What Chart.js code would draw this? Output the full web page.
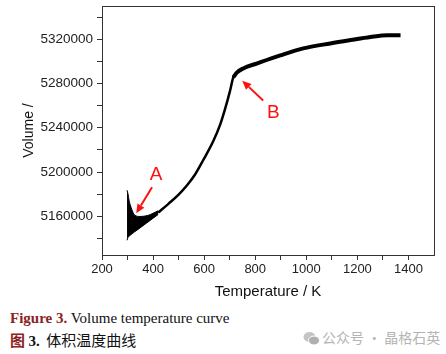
<!DOCTYPE html>
<html>
<head>
<meta charset="utf-8">
<script src="https://cdn.jsdelivr.net/npm/chart.js@4/dist/chart.umd.min.js"></script>
<style>
  body { margin: 0; background: #fff; width: 446px; height: 354px; overflow: hidden; position: relative; }
  #wrap { position: absolute; left: 0; top: 0; width: 446px; height: 305px; }
  .cap1 { position: absolute; left: 10px; top: 310px; font: 15px "Liberation Serif", serif; color: #111; white-space: nowrap; }
  .cap2 { position: absolute; left: 10px; top: 329px; font: 15px "Noto Sans CJK SC", sans-serif; color: #111; white-space: nowrap; }
  .fig { color: #8b2323; font-weight: bold; }
  .num { font-family: "Liberation Serif", serif; font-weight: bold; }
  .wm { position: absolute; left: 303px; top: 327px; font: 14px "Noto Sans CJK SC", sans-serif; color: #b4b4b4; white-space: nowrap; }
  .wm svg { vertical-align: -3px; margin-right: 2px; }
</style>
</head>
<body>
<div id="wrap"><canvas id="chart" width="446" height="305"></canvas></div>
<div class="cap1"><span class="fig">Figure 3.</span> Volume temperature curve</div>
<div class="cap2"><span class="fig">图</span> <span class="num">3.</span>&nbsp; 体积温度曲线</div>
<div class="wm"><svg width="17" height="15" viewBox="0 0 17 15"><ellipse cx="6.5" cy="6" rx="6" ry="5" fill="#c4c4c4"/><ellipse cx="11" cy="9.5" rx="5.5" ry="4.5" fill="#b0b0b0" stroke="#fff" stroke-width="1"/></svg>公众号 · 晶格石英</div>
<script>
// main curve
const temps = [420, 459, 500, 533, 565, 596, 635, 663, 682, 702, 714, 729,
               753, 808, 898, 988, 1094, 1173, 1251, 1318, 1369];
const volumes = [5163300, 5171000, 5179500, 5188000, 5198000, 5210600,
                 5227500, 5243000, 5257000, 5274000, 5285500, 5290000,
                 5293600, 5298200, 5305400, 5311700, 5316200, 5319200, 5322000, 5323600, 5323600];

// noisy start region: upper and lower edges of the black band
const bandTemps = [298, 302, 306, 314, 328, 349, 380, 420];
const bandUpper = [5183500, 5180000, 5174400, 5168000, 5161000, 5159800, 5160800, 5165000];
const bandLower = [5138300, 5141000, 5142000, 5143500, 5146000, 5149500, 5154800, 5161600];

// labelled ticks; unlabelled minor ticks sit half way between them
const xTicks = [200, 400, 600, 800, 1000, 1200, 1400];
const yTicks = [5160000, 5200000, 5240000, 5280000, 5320000];

// index where the bend into the plateau starts
const plateauFrom = 10;

function pts(xs, ys) { return xs.map((x, i) => ({ x: x, y: ys[i] })); }

function withMinors(major, lo, hi) {
  const step = major[1] - major[0];
  const out = [];
  for (let v = major[0] - step / 2; v <= hi; v += step / 2) {
    if (v >= lo) out.push({ value: v });
  }
  return out;
}

const notes = [
  { text: 'A', at: [412, 5197500], from: [396, 5186200], to: [334, 5162700] },
  { text: 'B', at: [871, 5253500], from: [831, 5264700], to: [749, 5282500] }
];

const frame = {
  id: 'frame',
  afterDraw(chart) {
    const c = chart.ctx, a = chart.chartArea;
    c.save();
    c.strokeStyle = '#333';
    c.lineWidth = 1;
    c.strokeRect(Math.round(a.left) + 0.5, Math.round(a.top) + 0.5,
                 Math.round(a.right - a.left), Math.round(a.bottom - a.top));
    // annotations
    const xs = chart.scales.x, ys = chart.scales.y;
    c.strokeStyle = '#ff1010';
    c.fillStyle = '#ff1010';
    notes.forEach(n => {
      const x1 = xs.getPixelForValue(n.from[0]), y1 = ys.getPixelForValue(n.from[1]);
      const x2 = xs.getPixelForValue(n.to[0]), y2 = ys.getPixelForValue(n.to[1]);
      const ang = Math.atan2(y2 - y1, x2 - x1);
      const hl = 9, hw = 4;
      const bx = x2 - hl * Math.cos(ang), by = y2 - hl * Math.sin(ang);
      c.lineWidth = 2;
      c.beginPath();
      c.moveTo(x1, y1);
      c.lineTo(bx, by);
      c.stroke();
      c.beginPath();
      c.moveTo(x2, y2);
      c.lineTo(bx + hw * Math.sin(ang), by - hw * Math.cos(ang));
      c.lineTo(bx - hw * Math.sin(ang), by + hw * Math.cos(ang));
      c.closePath();
      c.fill();
      c.font = '19px "Liberation Sans", Arial, sans-serif';
      c.textAlign = 'center';
      c.textBaseline = 'middle';
      c.fillText(n.text, xs.getPixelForValue(n.at[0]), ys.getPixelForValue(n.at[1]));
    });
    c.restore();
  }
};

const tickFont = { family: '"Liberation Sans", Arial, sans-serif', size: 13 };

new Chart(document.getElementById('chart'), {
  type: 'line',
  data: {
    datasets: [
      { data: pts(bandTemps, bandUpper), borderColor: '#000', borderWidth: 1, fill: false,
        cubicInterpolationMode: 'monotone' },
      { data: pts(bandTemps, bandLower), borderColor: '#000', borderWidth: 1, fill: '-1',
        backgroundColor: '#000', cubicInterpolationMode: 'monotone' },
      { data: pts(temps.slice(0, plateauFrom + 2), volumes.slice(0, plateauFrom + 2)),
        borderColor: '#000', borderWidth: 2.5, fill: false, cubicInterpolationMode: 'monotone' },
      { data: pts(temps.slice(plateauFrom), volumes.slice(plateauFrom)),
        borderColor: '#000', borderWidth: 4, fill: false, cubicInterpolationMode: 'monotone' }
    ]
  },
  options: {
    responsive: false,
    animation: false,
    events: [],
    layout: { padding: { top: 6, right: 12, left: 0, bottom: 0 } },
    elements: { point: { radius: 0 } },
    plugins: { legend: { display: false }, tooltip: { enabled: false } },
    scales: {
      x: {
        type: 'linear',
        min: 200, max: 1500,
        border: { color: '#333', width: 1 },
        grid: { drawOnChartArea: false, tickLength: 5, color: '#333' },
        ticks: {
          autoSkip: false, maxRotation: 0, padding: 2,
          color: '#222', font: tickFont,
          callback: v => xTicks.includes(v) ? String(v) : ''
        },
        afterBuildTicks: s => { s.ticks = withMinors(xTicks, 200, 1450); },
        title: { display: true, text: 'Temperature / K', color: '#111',
                 font: { family: '"Liberation Sans", Arial, sans-serif', size: 15 },
                 padding: { top: 4, bottom: 4 } },
        afterFit: s => { s.height = 50; s.paddingLeft = 0; s.paddingRight = 0; }
      },
      y: {
        type: 'linear',
        min: 5125000, max: 5350000,
        border: { color: '#333', width: 1 },
        grid: { drawOnChartArea: false, tickLength: 5, color: '#333' },
        ticks: {
          autoSkip: false, padding: 4,
          color: '#222', font: { family: '"Liberation Sans", Arial, sans-serif', size: 13.5 },
          callback: v => yTicks.includes(v) ? String(v) : ''
        },
        afterBuildTicks: s => { s.ticks = withMinors(yTicks, 5130000, 5345000); },
        title: { display: true, text: 'Volume /', color: '#111',
                 font: { family: '"Liberation Sans", Arial, sans-serif', size: 14 },
                 padding: { top: 21, bottom: 4 } },
        afterFit: s => { s.width = 102; s.paddingTop = 0; s.paddingBottom = 0; }
      }
    }
  },
  plugins: [frame]
});
</script>
</body>
</html>
